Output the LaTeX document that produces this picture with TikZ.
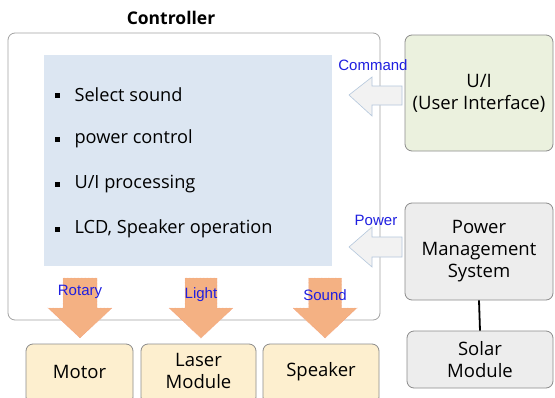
\documentclass[tikz,border=0pt]{standalone}
\usepackage{fontspec}
\setmainfont{Open Sans}
\newfontfamily\lblfont{Liberation Sans}
\definecolor{innerblue}{HTML}{DCE6F2}
\definecolor{uigreen}{HTML}{EBF1DE}
\definecolor{pmsgray}{HTML}{EDEDED}
\definecolor{outyellow}{HTML}{FDEFCF}
\definecolor{orangearrow}{HTML}{F4B183}
\definecolor{arrowgray}{HTML}{F2F2F2}
\definecolor{arrowedge}{HTML}{B4C7DC}
\definecolor{boxedge}{HTML}{8C8C8C}
\definecolor{lblblue}{HTML}{1F1FE0}
\tikzset{
  rbox/.style={draw=boxedge, line width=0.8pt, rounded corners=7pt},
  boxtext/.style={font=\fontsize{18.5}{22}\selectfont, align=center, text=black},
  lbl/.style={font=\lblfont\fontsize{15}{16}\selectfont, text=lblblue},
  bul/.style={font=\fontsize{18.2}{20}\selectfont, anchor=west},
  grayarrow/.style={fill=arrowgray, draw=arrowedge, line width=0.6pt},
  orangearr/.style={fill=orangearrow, draw=orangearrow!80!red, densely dotted, line width=0.4pt},
}
\begin{document}
\begin{tikzpicture}[x=1pt,y=-1pt]
\useasboundingbox[fill=white] (0,0) rectangle (555,397);
% title
\node[font=\bfseries\fontsize{17.5}{19}\selectfont] (title) at (171,18) {Controller};
% controller box
\draw[rbox, fill=white, draw=boxedge!80] (8,33) rectangle (380,320);
\node[fill=innerblue, minimum width=288pt, minimum height=211pt, inner sep=0pt] (inner) at (188,160.5) {};
% bullets
\foreach \yy/\tt [count=\i] in {95/{Select sound},139/{power control},184/{U/I processing},229/{LCD, Speaker operation}}{
  \fill (55,\yy-2.5) rectangle (60,\yy+2.5);
  \node[bul] (b\i) at (71,\yy) {\tt};
}
% U/I box
\node[rbox, fill=uigreen, minimum width=148pt, minimum height=116pt, boxtext] (ui) at (479,93) {U/I\\(User Interface)};
% PMS box
\node[rbox, fill=pmsgray, minimum width=148pt, minimum height=97pt, boxtext] (pms) at (479,251.5) {Power\\Management\\System};
% Solar box
\node[rbox, fill=pmsgray, minimum width=146pt, minimum height=57pt, boxtext] (solar) at (480,359.5) {Solar\\Module};
\draw[line width=1.8pt] (pms.south) -- (solar.north);
% bottom boxes
\node[rbox, fill=outyellow, minimum width=107pt, minimum height=60pt] (motor) at (79.5,374) {};
\node[boxtext] (motort) at (79.5,372) {Motor};
\node[rbox, fill=outyellow, minimum width=115pt, minimum height=60pt] (laser) at (198.5,374) {};
\node[boxtext] (lasert) at (198.5,371) {Laser\\Module};
\node[rbox, fill=outyellow, minimum width=116pt, minimum height=60pt] (speaker) at (321,374) {};
\node[boxtext] (speakert) at (321,372) {Speaker};
% gray arrows
\draw[grayarrow] (402,86) -- (372,86) -- (372,77) -- (349,95) -- (372,116) -- (372,105) -- (402,105) -- cycle;
\draw[grayarrow] (402,237) -- (372,237) -- (372,227) -- (349,247) -- (372,267) -- (372,257) -- (402,257) -- cycle;
\node[lbl] (cmd) at (373,65) {Command};
\node[lbl] (pwr) at (376,220) {Power};
% orange arrows
\foreach \cx/\sw/\hw in {80/17/32,201/16/32,325/16.5/32}{
  \draw[orangearr] (\cx-\sw,278) -- (\cx+\sw,278) -- (\cx+\sw,308) -- (\cx+\hw,308) -- (\cx,338) -- (\cx-\hw,308) -- (\cx-\sw,308) -- cycle;
}
\node[lbl] (rot) at (80,292) {Rotary};
\node[lbl] (lig) at (201,295) {Light};
\node[lbl] (snd) at (325,295) {Sound};
\end{tikzpicture}
\end{document}
